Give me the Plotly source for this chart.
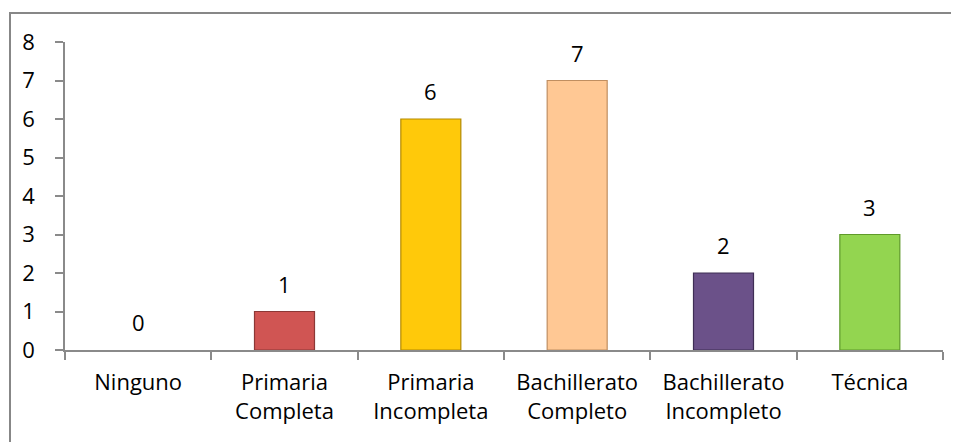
import plotly.graph_objects as go

categories = ["Ninguno", "Primaria<br>Completa", "Primaria<br>Incompleta",
              "Bachillerato<br>Completo", "Bachillerato<br>Incompleto", "Técnica"]
values = [0, 1, 6, 7, 2, 3]
colors = ["#C0504D", "#D05553", "#FFC90A", "#FFC894", "#6B5189", "#93D550"]
edge_colors = ["#8C3836", "#8C3836", "#B38A00", "#C08E60", "#3F2E55", "#5F9A2A"]
y_ticks = [0, 1, 2, 3, 4, 5, 6, 7, 8]

FONT = "Open Sans, Noto Sans, sans-serif"
FS = 22

fig = go.Figure()
fig.add_trace(go.Bar(
    x=categories, y=values,
    marker=dict(color=colors,
                line=dict(color=edge_colors,
                          width=[0 if v == 0 else 1.2 for v in values])),
    width=0.41,
    hoverinfo="x+y",
))

for c, v in zip(categories, values):
    fig.add_annotation(x=c, y=v, text=str(v), showarrow=False,
                       yanchor="bottom", yshift=11,
                       font=dict(family=FONT, size=FS, color="#000000"))

# page body has an 8px default margin; compensate so the plot lands where it should
OFF = 8
W, H = 959 - OFF, 442 - OFF
L, R, T, B = 65 - OFF, 959 - 943, 42 - OFF, 442 - 350
pw, ph = W - L - R, H - T - B

fig.update_layout(
    width=W, height=H,
    margin=dict(l=L, r=R, t=T, b=B, autoexpand=False),
    paper_bgcolor="white", plot_bgcolor="white",
    showlegend=False,
    font=dict(family=FONT, size=FS, color="#000000"),
    bargap=0.59,
    xaxis=dict(
        showline=True, linecolor="#8A8A8A", linewidth=1.5,
        ticks="outside", ticklen=8, tickcolor="#8A8A8A", tickwidth=1.5,
        tickson="boundaries", showgrid=False, zeroline=False,
        automargin=False, ticklabelstandoff=12,
        tickfont=dict(family=FONT, size=FS, color="#000000"),
        range=[-0.5, 5.5],
    ),
    yaxis=dict(
        range=[0, 8], tickvals=y_ticks,
        showline=True, linecolor="#8A8A8A", linewidth=1.5,
        ticks="outside", ticklen=8, tickcolor="#8A8A8A", tickwidth=1.5,
        showgrid=False, zeroline=False, automargin=False,
        ticklabelstandoff=16,
        tickfont=dict(family=FONT, size=FS, color="#000000"),
    ),
)

# outer chart frame (partly cropped on right and bottom)
fig.add_shape(type="rect", xref="paper", yref="paper",
              x0=(10 - 65) / pw, x1=(975 - 65) / pw,
              y0=-(460 - 350) / ph, y1=1 + (42 - 13) / ph,
              line=dict(color="#878787", width=2), layer="below")

fig.write_html("out.html")
